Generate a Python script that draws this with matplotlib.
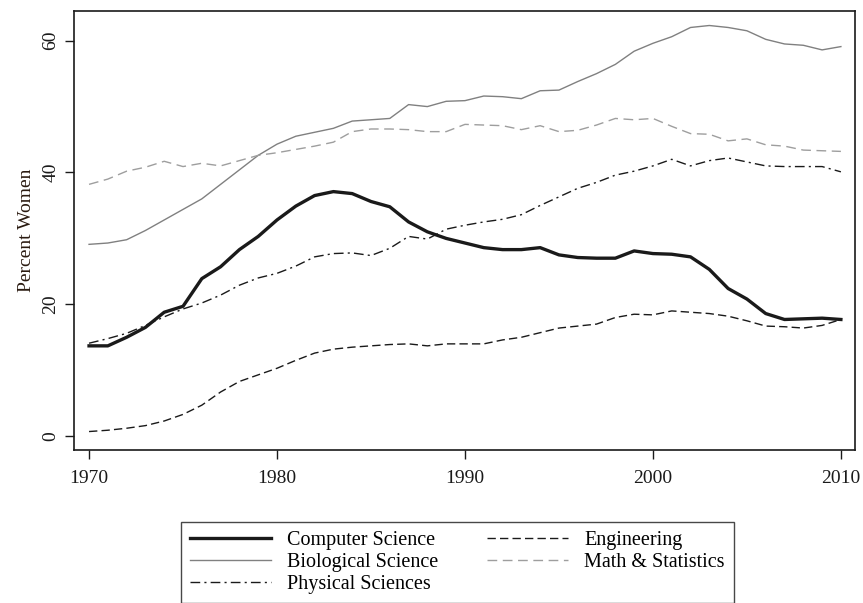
import matplotlib.pyplot as plt

years = list(range(1970, 2011))

computer_science = [13.7, 13.7, 15.0, 16.5, 18.8, 19.7, 23.9, 25.7, 28.3, 30.3,
                    32.8, 34.9, 36.5, 37.1, 36.8, 35.6, 34.8, 32.5, 31.0, 30.0,
                    29.3, 28.6, 28.3, 28.3, 28.6, 27.5, 27.1, 27.0, 27.0, 28.1,
                    27.7, 27.6, 27.2, 25.3, 22.4, 20.8, 18.6, 17.7, 17.8, 17.9,
                    17.7]
biological = [29.1, 29.3, 29.8, 31.2, 32.8, 34.4, 36.0, 38.2, 40.4, 42.6,
              44.3, 45.5, 46.1, 46.7, 47.8, 48.0, 48.2, 50.3, 50.0, 50.8,
              50.9, 51.6, 51.5, 51.2, 52.4, 52.5, 53.8, 55.0, 56.4, 58.4,
              59.6, 60.6, 62.0, 62.3, 62.0, 61.5, 60.2, 59.5, 59.3, 58.6,
              59.1]
physical = [14.1, 14.8, 15.6, 16.8, 18.1, 19.3, 20.2, 21.4, 22.9, 24.0,
            24.7, 25.8, 27.2, 27.7, 27.8, 27.4, 28.5, 30.3, 29.9, 31.4,
            32.0, 32.5, 32.9, 33.6, 35.0, 36.3, 37.6, 38.5, 39.6, 40.2,
            41.0, 42.0, 41.0, 41.8, 42.2, 41.6, 41.0, 40.9, 40.9, 40.9,
            40.1]
engineering = [0.7, 0.9, 1.2, 1.6, 2.3, 3.3, 4.7, 6.7, 8.3, 9.3,
               10.3, 11.5, 12.6, 13.2, 13.5, 13.7, 13.9, 14.0, 13.7, 14.0,
               14.0, 14.0, 14.6, 15.0, 15.7, 16.4, 16.7, 17.0, 18.0, 18.5,
               18.4, 19.0, 18.8, 18.6, 18.2, 17.5, 16.7, 16.6, 16.4, 16.8,
               17.7]
math_stats = [38.2, 39.0, 40.2, 40.8, 41.7, 40.9, 41.4, 41.0, 41.8, 42.6,
              43.0, 43.5, 44.0, 44.6, 46.2, 46.6, 46.6, 46.5, 46.2, 46.2,
              47.3, 47.2, 47.1, 46.5, 47.1, 46.2, 46.4, 47.2, 48.2, 48.0,
              48.2, 47.0, 45.9, 45.8, 44.8, 45.1, 44.2, 44.0, 43.4, 43.3,
              43.2]

plt.rcParams['font.family'] = ['Liberation Serif', 'DejaVu Serif']

fig = plt.figure(figsize=(8.63, 6.03), dpi=100)
ax = fig.add_axes([74 / 863, 1 - 450 / 603, 781 / 863, 439 / 603])

l_cs, = ax.plot(years, computer_science, color='#1a1a1a', lw=2.4)
l_bio, = ax.plot(years, biological, color='#808080', lw=1.0)
l_phys, = ax.plot(years, physical, color='#1a1a1a', lw=1.0,
                  linestyle=(0, (7, 3, 1.5, 3)))
l_eng, = ax.plot(years, engineering, color='#1a1a1a', lw=1.0,
                 linestyle=(0, (6, 3)))
l_math, = ax.plot(years, math_stats, color='#9e9e9e', lw=1.0,
                  linestyle=(0, (7, 4)))

ax.set_xlim(1969.2, 2010.75)
ax.set_ylim(-2.1, 64.5)
ax.set_xticks([1970, 1980, 1990, 2000, 2010])
ax.set_yticks([0, 20, 40, 60])
ax.tick_params(axis='both', direction='out', length=6.5, width=1, labelsize=14, colors='#1a1a1a')
ax.tick_params(axis='x', pad=8)
ax.tick_params(axis='y', labelrotation=90, pad=4)
for lbl in ax.get_yticklabels():
    lbl.set_va('center')
for s in ax.spines.values():
    s.set_linewidth(1.2)
    s.set_color('#1a1a1a')
ax.set_ylabel('Percent Women', fontsize=14, color='#2a1a10', labelpad=5)

# column-first fill: CS/Bio/Phys on the left, Eng/Math on the right
fig.legend([l_cs, l_bio, l_phys, l_eng, l_math],
           ['Computer Science', 'Biological Science', 'Physical Sciences',
            'Engineering', 'Math & Statistics'],
           ncol=2, loc='upper left', bbox_to_anchor=(181 / 863, 1 - 522 / 603),
           frameon=True, fancybox=False, edgecolor='#1a1a1a', fontsize=14.5,
           handlelength=4.0, handletextpad=0.8, columnspacing=2.45,
           labelspacing=0.15, borderpad=0.45, borderaxespad=0)

fig.savefig('out.png', dpi=100)
